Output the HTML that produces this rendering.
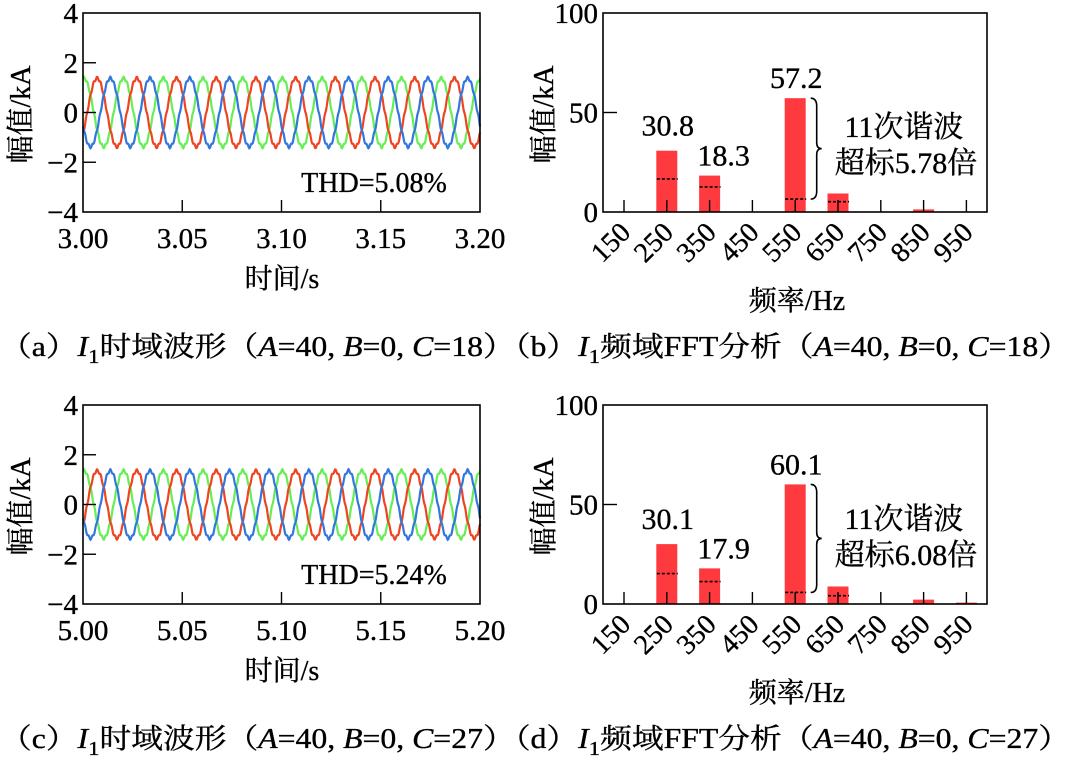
<!DOCTYPE html>
<html><head><meta charset="utf-8"><style>
html,body{margin:0;padding:0;background:#fff}
svg{display:block}
svg text{fill:#000;stroke:#000;stroke-width:0.35}
</style></head><body>
<svg id="fig" width="1072" height="757" viewBox="0 0 1072 757" xmlns="http://www.w3.org/2000/svg"></svg>
<script>
// ---------- data ----------
const timeTicks1 = ["3.00","3.05","3.10","3.15","3.20"];
const timeTicks2 = ["5.00","5.05","5.10","5.15","5.20"];
const timeStart = [3.00, 5.00];
const ampTicks = [4, 2, 0, -2, -4];
const phaseAmps1 = [1.38, 1.38, 1.38];
const phaseAmps2 = [1.36, 1.36, 1.36];
const phaseShiftsDeg = [0, -120, -240];
const phaseColors = ["#66ee55", "#ee4422", "#3377dd"];
const fundamentalHz = 50;
const thdLabels = ["THD=5.08%", "THD=5.24%"];

const freqCats = [150,250,350,450,550,650,750,850,950];
const fftVals1 = [0, 30.8, 18.3, 0, 57.2, 9.3, 0, 1.3, 0];
const fftVals2 = [0, 30.1, 17.9, 0, 60.1, 8.8, 0, 2.2, 0.7];
const limitVals1 = [null, 16.6, 12.6, null, 6.5, 5.2, null, null, null];
const limitVals2 = [null, 15.3, 11.3, null, 5.8, 4.2, null, null, null];
const valueLabels1 = ["30.8","18.3","57.2"];
const valueLabels2 = ["30.1","17.9","60.1"];
const valueLabelIdx = [1,2,4];
const fftYTicks = [100, 50, 0];
const exceedLabels = ["超标5.78倍", "超标6.08倍"];
const captionsTop = ["a","b"];
const captionsBottom = ["c","d"];
const captionC = ["18","27"];

// ---------- drawing ----------
const NS = "http://www.w3.org/2000/svg";
const svg = document.getElementById("fig");
const FF_LAT = '"Liberation Serif","DejaVu Serif",serif';
const FF_CJK = '"Liberation Serif","Noto Serif CJK SC","DejaVu Serif",serif';
function mk(tag, attrs, parent, cjk){
  const e = document.createElementNS(NS, tag);
  for (const k in attrs) e.setAttribute(k, attrs[k]);
  if (tag === "text") e.style.fontFamily = cjk ? FF_CJK : FF_LAT;
  (parent||svg).appendChild(e);
  return e;
}

function drawTime(panel, dy){
  const g = mk("g", {transform:`translate(0,${dy})`});
  
  
  const L=83, R=480, T=13, B=212;
  const ymin=-4, ymax=4, t0=timeStart[panel], t1=t0+0.2;
  const xs = t => L + (t - t0)/(t1 - t0)*(R-L);
  const ys = v => B - (v - ymin)/(ymax - ymin)*(B-T);
  const amps = panel===0 ? phaseAmps1 : phaseAmps2;
  for (let p=0;p<3;p++){
    let d="";
    for (let i=0;i<=800;i++){
      const t = t0 + 0.2*i/800;
      const w = 2*Math.PI*fundamentalHz*(t - t0) + (phaseShiftsDeg[p]-8)*Math.PI/180;
      const v = amps[p]*(Math.cos(w) + 0.04*Math.cos(11*w));
      d += (i?"L":"M") + xs(t).toFixed(2) + "," + ys(v).toFixed(2);
    }
    const path = mk("path", {d, fill:"none", stroke:phaseColors[p], "stroke-width":2.2}, g);
    
    
  }
  const fr = mk("rect", {x:L,y:T,width:R-L,height:B-T,fill:"none",stroke:"#000","stroke-width":1.6}, g);
  
  
  ampTicks.forEach(v=>{
    const y = ys(v);
    if (v!==4 && v!==-4) mk("line",{x1:L,x2:L+13,y1:y,y2:y,stroke:"#000","stroke-width":1.4},g);
    const tl = mk("text",{x:L-5,y:y+10,"text-anchor":"end","font-size":29},g);
    tl.textContent = v<0 ? "\u2212"+(-v) : String(v);
    
    
  });
  const labels = panel===0 ? timeTicks1 : timeTicks2;
  labels.forEach((s,i)=>{
    const x = xs(t0 + 0.05*i);
    if (i>0 && i<4) mk("line",{x1:x,x2:x,y1:B,y2:B-12,stroke:"#000","stroke-width":1.4},g);
    const tl = mk("text",{x:x,y:B+36,"text-anchor":"middle","font-size":29},g);
    tl.textContent = s;
    
    
  });
  const xt = mk("text",{x:282,y:B+76,"text-anchor":"middle","font-size":28},g,true);
  xt.textContent = "时间/s";
  
  
  const yt = mk("text",{x:0,y:0,"text-anchor":"middle","font-size":28,transform:`translate(30,${(T+B)/2+2}) rotate(-90)`},g,true);
  yt.textContent = "幅值/kA";
  
  
  const th = mk("text",{x:374,y:192,"text-anchor":"middle","font-size":28},g);
  th.textContent = thdLabels[panel];
  
  
}

function drawFFT(panel, dy){
  const g = mk("g", {transform:`translate(0,${dy})`});
  
  
  const L=603, R=987, T=13, B=212;
  const x0=624, step=42.8, bw=21;
  const xs = i => x0 + i*step;
  const ys = v => B - v/100*(B-T);
  const vals = panel===0 ? fftVals1 : fftVals2;
  const lims = panel===0 ? limitVals1 : limitVals2;
  vals.forEach((v,i)=>{
    if (v<=0) return;
    const r = mk("rect",{x:xs(i)-bw/2,y:ys(v),width:bw,height:B-ys(v),fill:"#ff3a3f"},g);
    
    
  });
  const fr = mk("rect",{x:L,y:T,width:R-L,height:B-T,fill:"none",stroke:"#000","stroke-width":1.6},g);
  
  
  freqCats.forEach((c,i)=>{
    const x = xs(i);
    mk("line",{x1:x,x2:x,y1:B,y2:B-12,stroke:"#000","stroke-width":1.4},g);
    const tl = mk("text",{x:0,y:0,"text-anchor":"end","font-size":28,transform:`translate(${x+8},${B+22}) rotate(-45)`},g);
    tl.textContent = String(c);
    
    
  });
  lims.forEach((v,i)=>{
    if (v===null) return;
    const l = mk("line",{x1:xs(i)-10,x2:xs(i)+11,y1:ys(v),y2:ys(v),stroke:"#000","stroke-width":1.6,"stroke-dasharray":"3,2"},g);
    
    
  });
  fftYTicks.forEach(v=>{
    const y = ys(v);
    if (v===50) mk("line",{x1:L,x2:L+14,y1:y,y2:y,stroke:"#000","stroke-width":1.4},g);
    const tl = mk("text",{x:L-5,y:y+10,"text-anchor":"end","font-size":29},g);
    tl.textContent = String(v);
    
    
  });
  const vl = panel===0 ? valueLabels1 : valueLabels2;
  valueLabelIdx.forEach((idx,k)=>{
    const off = k===0 ? 15 : 10;
    const tl = mk("text",{x:xs(idx)+(k===1?14:1),y:ys(vals[idx])-off,"text-anchor":"middle","font-size":30},g);
    tl.textContent = vl[k];
    
    
  });
  const bx = xs(4)+bw/2+5, ytop = ys(vals[4]), ybot = ys(lims[4]), ym=(ytop+ybot)/2;
  const br = mk("path",{d:`M${bx},${ytop} Q${bx+6},${ytop} ${bx+6},${ytop+8} L${bx+6},${ym-6} Q${bx+6},${ym} ${bx+11},${ym} Q${bx+6},${ym} ${bx+6},${ym+6} L${bx+6},${ybot-8} Q${bx+6},${ybot} ${bx},${ybot}`,fill:"none",stroke:"#000","stroke-width":1.6},g);
  
  
  const a1 = mk("text",{x:904,y:137,"text-anchor":"middle","font-size":30},g,true);
  a1.textContent = "11次谐波";
  
  
  const a2 = mk("text",{x:906,y:173,"text-anchor":"middle","font-size":30},g,true);
  a2.textContent = exceedLabels[panel];
  
  
  const xt = mk("text",{x:797,y:B+98,"text-anchor":"middle","font-size":28},g,true);
  xt.textContent = "频率/Hz";
  
  
  const yt = mk("text",{x:0,y:0,"text-anchor":"middle","font-size":28,transform:`translate(553,${(T+B)/2+2}) rotate(-90)`},g,true);
  yt.textContent = "幅值/kA";
  
  
}

function drawCaption(y, letters, c){
  const t = mk("text",{x:0,y:y,"font-size":28,textLength:1070,lengthAdjust:"spacingAndGlyphs"},svg,true);
  
  
  t.innerHTML = `（${letters[0]}）<tspan font-style="italic">I</tspan><tspan font-size="20" dy="7">1</tspan><tspan dy="-7">时域波形（</tspan><tspan font-style="italic">A</tspan>=40, <tspan font-style="italic">B</tspan>=0, <tspan font-style="italic">C</tspan>=${c}）（${letters[1]}）<tspan font-style="italic">I</tspan><tspan font-size="20" dy="7">1</tspan><tspan dy="-7">频域FFT分析（</tspan><tspan font-style="italic">A</tspan>=40, <tspan font-style="italic">B</tspan>=0, <tspan font-style="italic">C</tspan>=${c}）`;
}

drawTime(0, 0);
drawFFT(0, 0);
drawTime(1, 392);
drawFFT(1, 392);
drawCaption(356, captionsTop, captionC[0]);
drawCaption(748, captionsBottom, captionC[1]);
</script>
</body></html>
